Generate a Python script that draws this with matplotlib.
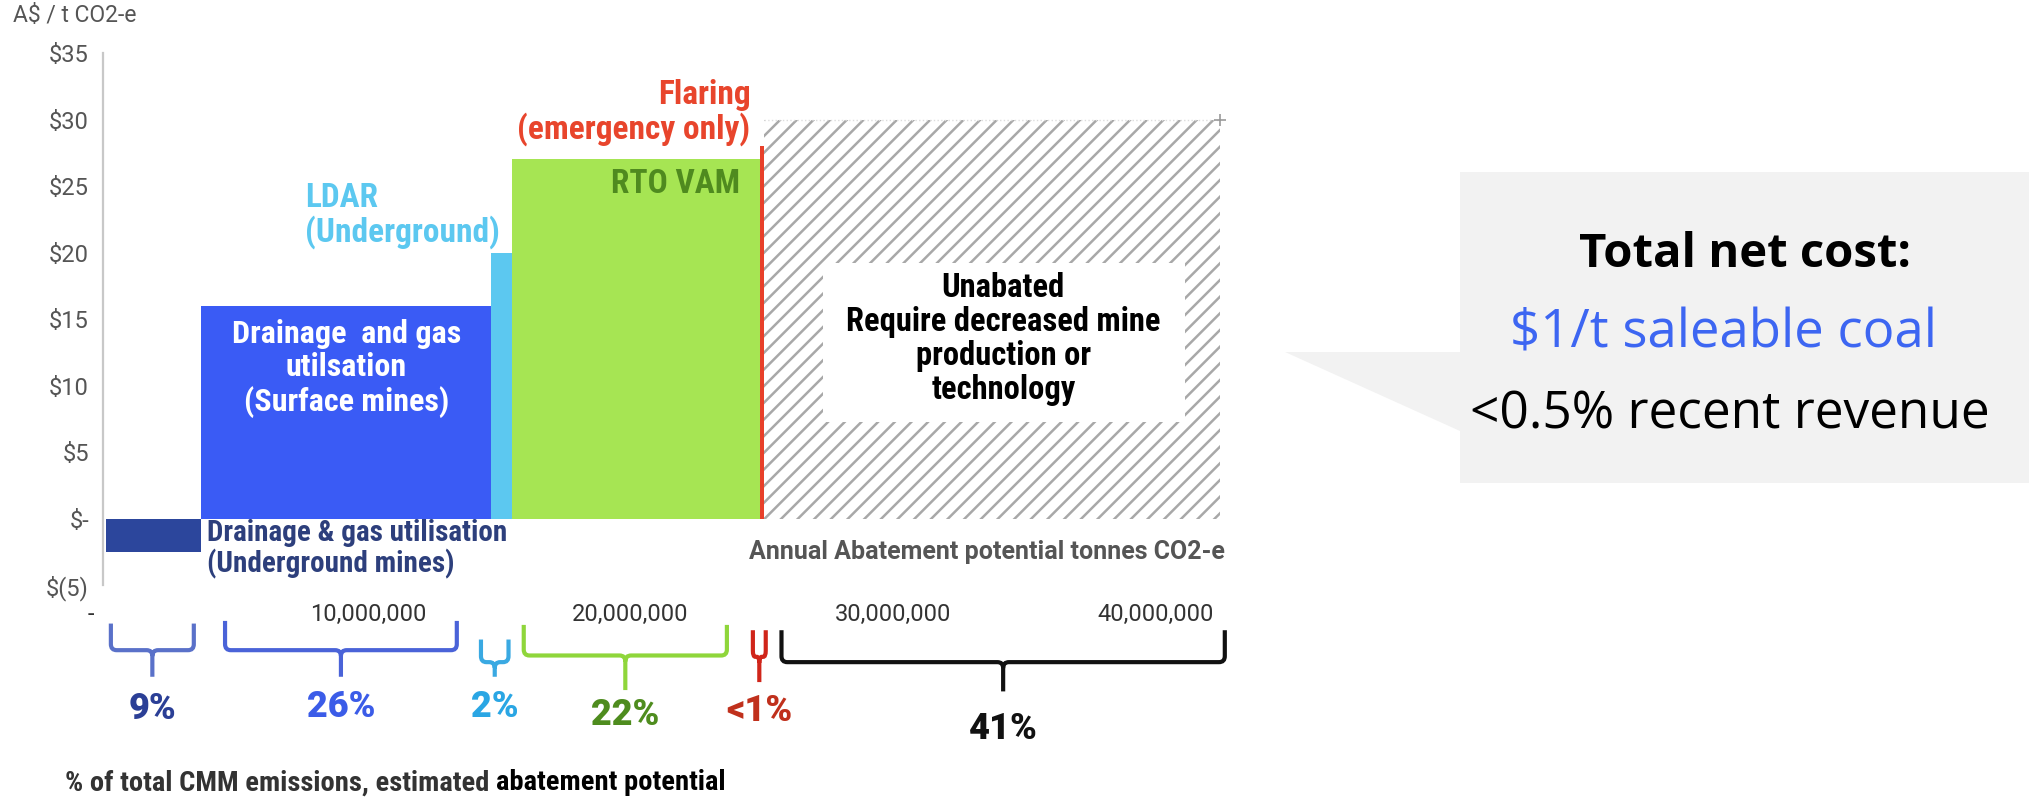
import matplotlib
matplotlib.use('Agg')
import matplotlib.pyplot as plt
import numpy as np
from matplotlib.patches import Polygon, Rectangle, PathPatch
from matplotlib.path import Path
from matplotlib.ticker import FuncFormatter, FixedLocator

# abatement options, left to right along the cost curve
options = ['Drainage & gas utilisation (Underground mines)',
           'Drainage and gas utilisation (Surface mines)',
           'LDAR (Underground)',
           'RTO VAM',
           'Flaring (emergency only)',
           'Unabated']
volume = [3.65e6, 11.05e6, 0.80e6, 9.45e6, 0.15e6, 17.35e6]   # t CO2-e / yr
cost = [-2.5, 16, 20, 27, 28, 30]                             # A$ / t CO2-e
share = ['9%', '26%', '2%', '22%', '<1%', '41%']

bar_colors = ['#2c469c', '#3a5bf5', '#5cc8f0', '#a6e553', '#e8402a', 'white']
brace_colors = ['#5a71c9', '#4a63d8', '#3aa9e2', '#8fd63b', '#d0251a', '#111111']
share_colors = ['#2b3f96', '#3b5ce8', '#2aa6e4', '#4e8c1e', '#c0301c', '#111111']

# brace extents (t CO2-e) and vertical layout below the axis (A$ units)
brace_lo = [0.2e6, 4.55e6, 14.3e6, 15.93e6, 24.66e6, 25.75e6]
brace_hi = [3.36e6, 13.38e6, 15.35e6, 23.67e6, 25.15e6, 42.64e6]
brace_top = [-7.9, -7.7, -9.1, -8.0, -8.4, -8.4]
brace_mid = [-9.9, -9.9, -10.8, -10.3, -10.4, -10.8]
brace_tail = [-11.9, -11.9, -11.9, -12.9, -12.3, -13.0]
share_y = [-14.3, -14.2, -14.2, -14.8, -14.5, -15.8]

y_ticks = [-5, 0, 5, 10, 15, 20, 25, 30, 35]
x_ticks = [0, 10e6, 20e6, 30e6, 40e6]

COND = ['Roboto Condensed', 'Liberation Sans Narrow', 'Roboto']
plt.rcParams['font.family'] = ['Roboto', 'DejaVu Sans']
plt.rcParams['hatch.linewidth'] = 1.8

fig = plt.figure(figsize=(20.29, 7.99), dpi=100)
ax = fig.add_axes([103 / 2029, 1 - 585 / 799, 1147 / 2029, 532 / 799])

lefts = np.concatenate([[0], np.cumsum(volume)[:-1]])
rights = lefts + np.array(volume)

for i in range(len(options)):
    if options[i] == 'Unabated':
        ax.bar(lefts[i], cost[i], width=volume[i], align='edge',
               color='white', edgecolor='#a8a8a8', hatch='//', linewidth=0)
    else:
        ax.bar(lefts[i], cost[i], width=volume[i], align='edge',
               color=bar_colors[i], linewidth=0)

# faint top edge of the unabated block
ax.plot([lefts[5], rights[5]], [cost[5], cost[5]], color='#dddddd', lw=1,
        ls=':', zorder=3)
ax.plot([rights[5]], [cost[5]], marker='+', color='#999999', ms=8, mew=1.2,
        zorder=3)

ax.set_xlim(-0.1e6, 43.6e6)
ax.set_ylim(-5, 35)

for s in ['top', 'right', 'bottom']:
    ax.spines[s].set_visible(False)
ax.spines['left'].set_color('#c8c8c8')
ax.spines['left'].set_linewidth(1.6)

ax.yaxis.set_major_locator(FixedLocator(y_ticks))
ax.yaxis.set_major_formatter(FuncFormatter(
    lambda v, p: '$-' if v == 0 else ('$(%d)' % -v if v < 0 else '$%d' % v)))
ax.xaxis.set_major_locator(FixedLocator(x_ticks))
# accounting style: the zero dash sits left of its tick
ax.xaxis.set_major_formatter(FuncFormatter(
    lambda v, p: '-' + ' ' * 5 if v == 0 else f'{v:,.0f}'))
ax.tick_params(axis='y', length=0, pad=10, labelsize=17, labelcolor='#555555')
ax.tick_params(axis='x', length=0, pad=13, labelsize=17, labelcolor='#333333')

# labels on the bars
ax.text(lefts[1] + volume[1] / 2, 11.3,
        'Drainage  and gas\nutilsation\n(Surface mines)',
        ha='center', va='center', color='white', fontsize=23,
        fontweight='bold', family=COND, linespacing=1.15)
ax.text(7.6e6, 22.8, 'LDAR\n(Underground)', ha='left', va='center',
        color=bar_colors[2], fontsize=24, fontweight='bold', family=COND,
        linespacing=1.05)
ax.text(24.56e6, 30.5, 'Flaring\n(emergency only)', ha='right', va='center',
        multialignment='right', color='#e8452c', fontsize=24,
        fontweight='bold', family=COND, linespacing=1.05)
ax.text(24.17e6, 25.15, 'RTO VAM', ha='right', va='center', color='#4f8a1f',
        fontsize=24, fontweight='bold', family=COND)
ax.text(3.86e6, -2.3, 'Drainage & gas utilisation\n(Underground mines)',
        ha='left', va='center', color='#2d3f7c', fontsize=21,
        fontweight='bold', family=COND, linespacing=1.1)
ax.add_patch(Rectangle((27.33e6, 7.26), 41.12e6 - 27.33e6, 19.2 - 7.26,
                       facecolor='white', edgecolor='none', zorder=3))
ax.text(34.2e6, 13.5,
        'Unabated\nRequire decreased mine\nproduction or\ntechnology',
        ha='center', va='center', color='black', fontsize=23.5,
        fontweight='bold', family=COND, linespacing=1.08, zorder=4)
ax.text(rights[5] + 0.2e6, -2.5, 'Annual Abatement potential tonnes CO2-e',
        ha='right', va='center', color='#555555', fontsize=18,
        fontweight='bold', family=['Roboto', 'DejaVu Sans'])


def brace(lo, hi, top, mid, tail, color):
    c = (lo + hi) / 2
    rx = min(0.22e6, (hi - lo) / 5)
    ry = 0.45
    verts = [(lo, top), (lo, mid + ry), (lo, mid), (lo + rx, mid),
             (c - rx, mid), (c, mid), (c, mid - ry), (c, tail),
             (c, mid - ry), (c, mid), (c + rx, mid),
             (hi - rx, mid), (hi, mid), (hi, mid + ry), (hi, top)]
    codes = [Path.MOVETO, Path.LINETO, Path.CURVE3, Path.CURVE3,
             Path.LINETO, Path.CURVE3, Path.CURVE3, Path.LINETO,
             Path.MOVETO, Path.CURVE3, Path.CURVE3,
             Path.LINETO, Path.CURVE3, Path.CURVE3, Path.LINETO]
    ax.add_patch(PathPatch(Path(verts, codes), fill=False, edgecolor=color,
                           lw=3, clip_on=False, capstyle='butt'))
    return c


# braces with share of total CMM emissions
for i in range(len(share)):
    c = brace(brace_lo[i], brace_hi[i], brace_top[i], brace_mid[i],
              brace_tail[i], brace_colors[i])
    ax.text(c, share_y[i], share[i], ha='center', va='center',
            color=share_colors[i], fontsize=26, fontweight='black',
            family=['Roboto', 'DejaVu Sans'], clip_on=False)

fig.text(13 / 2029, 1 - 16 / 799, 'A$ / t CO2-e', ha='left', va='center',
         fontsize=16.5, color='#555555')

t1 = fig.text(65 / 2029, 1 - 783 / 799, '% of total CMM emissions, estimated ',
              ha='left', va='center', fontsize=20.5, fontweight='bold',
              family=COND, color='#333333')
ax.annotate('abatement potential', xy=(1, 0), xycoords=t1, ha='left',
            va='bottom', fontsize=20.5, fontweight='bold', family=COND,
            color='black', annotation_clip=False)

# callout box on the right
callout = [(1285, 352), (1460, 352), (1460, 172), (2029, 172), (2029, 483),
           (1460, 483), (1460, 431)]
fig.patches.append(Polygon([(x / 2029, 1 - y / 799) for x, y in callout],
                           closed=True, facecolor='#f2f2f2', edgecolor='none',
                           transform=fig.transFigure, figure=fig))
SANS = ['Open Sans', 'Roboto', 'DejaVu Sans']
fig.text(1745 / 2029, 1 - 254 / 799, 'Total net cost:', ha='center',
         va='center', fontsize=34, fontweight='bold', color='black',
         family=SANS)
fig.text(1724 / 2029, 1 - 334 / 799, '$1/t saleable coal', ha='center',
         va='center', fontsize=38, color='#3d66f2', family=SANS)
fig.text(1730 / 2029, 1 - 415 / 799, '<0.5% recent revenue', ha='center',
         va='center', fontsize=37, color='black', family=SANS)

fig.savefig('out.png', dpi=100)
